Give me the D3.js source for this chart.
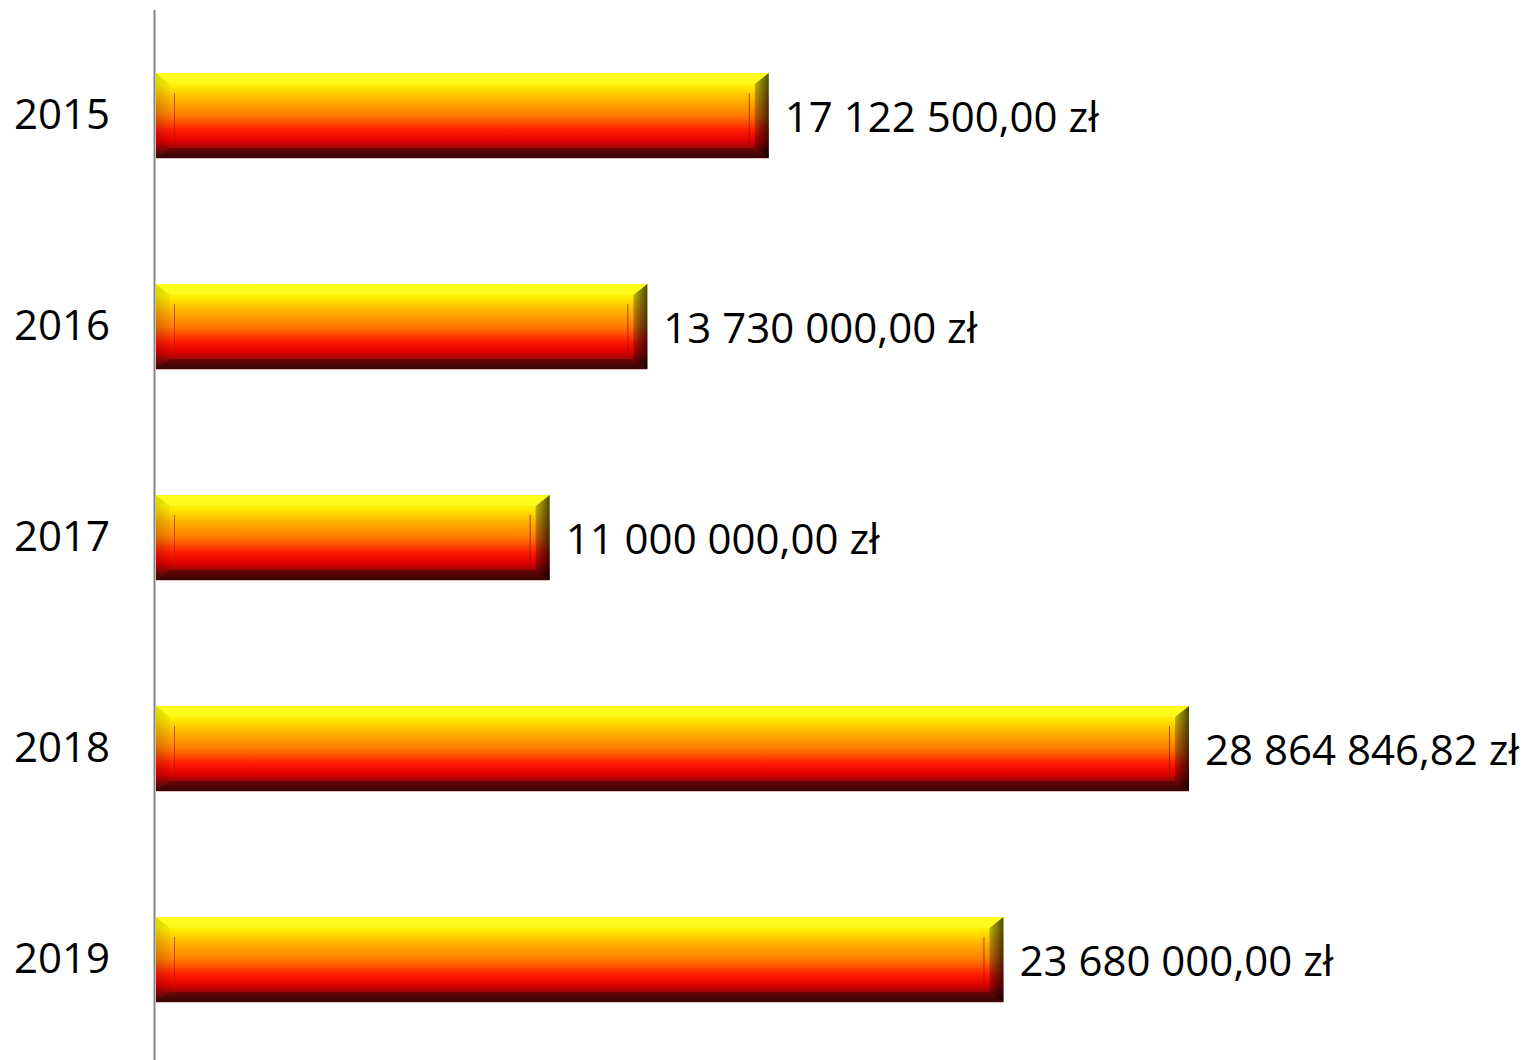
<!DOCTYPE html>
<html><head><meta charset="utf-8">
<script src="https://cdn.jsdelivr.net/npm/d3@7"></script>
<style>html,body{margin:0;padding:0;background:#fff;}svg{display:block;}</style>
</head><body>
<script>
const categories = ["2015", "2016", "2017", "2018", "2019"];
const values = [17122500.00, 13730000.00, 11000000.00, 28864846.82, 23680000.00];
const valueLabels = ["17 122 500,00 zł", "13 730 000,00 zł", "11 000 000,00 zł", "28 864 846,82 zł", "23 680 000,00 zł"];

const W = 1528, H = 1060;
const svg = d3.select("body").append("svg").attr("width", W).attr("height", H);
const defs = svg.append("defs");

const x = d3.scaleLinear().domain([0, d3.max(values)]).range([156, 1189]);
const y = d3.scaleBand().domain(categories).range([10, 1065]).paddingInner(0.597).paddingOuter(0.2985);

const g1 = defs.append("linearGradient").attr("id", "barGrad").attr("x1", 0).attr("y1", 0).attr("x2", 0).attr("y2", 1);
[[0, "#ffff00"], [0.14, "#fff000"], [0.3, "#ffb800"], [0.5, "#ff7a00"], [0.68, "#ff1a00"], [0.8, "#e00000"], [0.9, "#8a0808"], [1, "#3a0a0a"]]
  .forEach(([o, c]) => g1.append("stop").attr("offset", o).attr("stop-color", c));
const gR = defs.append("linearGradient").attr("id", "rightGrad").attr("x1", 0).attr("y1", 0).attr("x2", 1).attr("y2", 0);
gR.append("stop").attr("offset", 0).attr("stop-color", "#000").attr("stop-opacity", 0.25);
gR.append("stop").attr("offset", 1).attr("stop-color", "#000").attr("stop-opacity", 0.7);
const gL = defs.append("linearGradient").attr("id", "leftGrad").attr("x1", 0).attr("y1", 0).attr("x2", 1).attr("y2", 0);
gL.append("stop").attr("offset", 0).attr("stop-color", "#000").attr("stop-opacity", 0.14);
gL.append("stop").attr("offset", 1).attr("stop-color", "#000").attr("stop-opacity", 0.03);

const bw = 14, bt = 11, bb = 10;
const bars = svg.append("g").selectAll("g").data(categories).join("g");
bars.each(function(c, i) {
  const gg = d3.select(this);
  const x0 = x(0), x1 = x(values[i]), y0 = y(c), y1 = y(c) + y.bandwidth();
  gg.append("rect").attr("x", x0).attr("y", y0).attr("width", x1 - x0).attr("height", y1 - y0).attr("fill", "url(#barGrad)");
  gg.append("path").attr("d", `M${x0},${y0}L${x1},${y0}L${x1 - bw},${y0 + bt}L${x0 + bw},${y0 + bt}Z`)
    .attr("fill", "#ffff40").attr("opacity", 0.45);
  gg.append("path").attr("d", `M${x0},${y1}L${x1},${y1}L${x1 - bw},${y1 - bb}L${x0 + bw},${y1 - bb}Z`)
    .attr("fill", "#2a0000").attr("opacity", 0.4);
  gg.append("path").attr("d", `M${x0},${y0}L${x0 + bw},${y0 + bt}L${x0 + bw},${y1 - bb}L${x0},${y1}Z`)
    .attr("fill", "url(#leftGrad)");
  gg.append("path").attr("d", `M${x1},${y0}L${x1 - bw},${y0 + bt}L${x1 - bw},${y1 - bb}L${x1},${y1}Z`)
    .attr("fill", "url(#rightGrad)");
  gg.append("line").attr("x1", x0 + 18.5).attr("x2", x0 + 18.5).attr("y1", y0 + 20).attr("y2", y1 - 14)
    .attr("stroke", "#a02000").attr("stroke-opacity", 0.6).attr("stroke-width", 1);
  gg.append("line").attr("x1", x1 - 19.5).attr("x2", x1 - 19.5).attr("y1", y0 + 20).attr("y2", y1 - 14)
    .attr("stroke", "#802000").attr("stroke-opacity", 0.7).attr("stroke-width", 1);
  gg.append("line").attr("x1", x0).attr("x2", x1).attr("y1", y1 + 0.5).attr("y2", y1 + 0.5)
    .attr("stroke", "#d08080").attr("stroke-opacity", 0.5);
});

svg.append("line").attr("x1", 154.5).attr("x2", 154.5).attr("y1", 10).attr("y2", 1060)
  .attr("stroke", "#868686").attr("stroke-width", 2);

svg.append("g").selectAll("text").data(categories).join("text")
  .attr("x", 110).attr("y", c => y(c) + y.bandwidth() / 2 + 13)
  .attr("text-anchor", "end").attr("font-family", "Open Sans, sans-serif").attr("font-size", 42)
  .attr("fill", "#000").text(c => c);

svg.append("g").selectAll("text").data(categories).join("text")
  .attr("x", (c, i) => x(values[i]) + 16).attr("y", c => y(c) + y.bandwidth() / 2 + 16)
  .attr("font-family", "Open Sans, sans-serif").attr("font-size", 42)
  .attr("fill", "#000").text((c, i) => valueLabels[i]);
</script>
</body></html>
